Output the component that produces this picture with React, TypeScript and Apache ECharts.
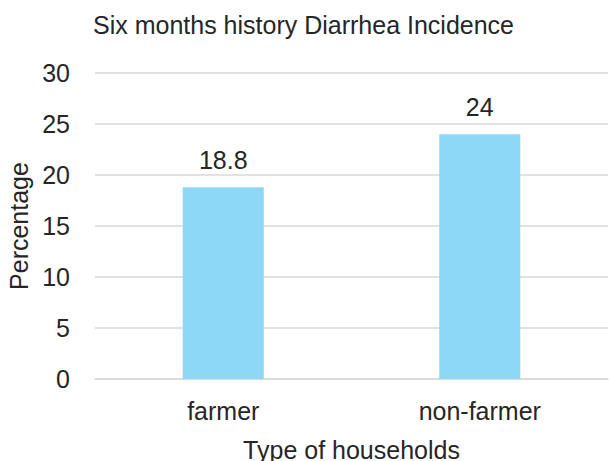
import React, { useEffect, useRef } from "react";
import * as echarts from "echarts";

const categories = ["farmer", "non-farmer"];
const values = [18.8, 24];
const titleText = "Six months history Diarrhea Incidence";
const xName = "Type of households";
const yName = "Percentage";

export default function App() {
  const ref = useRef<HTMLDivElement>(null);
  useEffect(() => {
    const chart = echarts.init(ref.current!, null, { renderer: "svg" });
    const font = "'Liberation Sans', Arial, sans-serif";
    const textColor = "#262626";
    const fs = 25;
    chart.setOption({
      animation: false,
      backgroundColor: "#ffffff",
      textStyle: { fontFamily: font },
      title: {
        text: titleText,
        left: 88,
        top: 7,
        textStyle: { fontSize: fs, fontWeight: "normal", color: textColor, fontFamily: font },
      },
      grid: { left: 95, right: 1, top: 73, bottom: 82, outerBoundsMode: "none", containLabel: false },
      xAxis: {
        type: "category",
        data: categories,
        name: xName,
        nameLocation: "middle",
        nameGap: 58,
        nameTextStyle: { fontSize: fs, color: textColor, fontFamily: font },
        axisLine: { lineStyle: { color: "#d9d9d9", width: 1.5 } },
        axisTick: { show: false },
        axisLabel: { fontSize: fs, color: textColor, margin: 19, fontFamily: font },
      },
      yAxis: {
        type: "value",
        min: 0,
        max: 30,
        interval: 5,
        name: yName,
        nameLocation: "middle",
        nameGap: 60,
        nameTextStyle: { fontSize: fs, color: textColor, fontFamily: font },
        axisLine: { show: false },
        axisTick: { show: false },
        axisLabel: { fontSize: fs, color: textColor, margin: 25, fontFamily: font },
        splitLine: { lineStyle: { color: "#d9d9d9", width: 1.5 } },
      },
      series: [
        {
          type: "bar",
          data: values,
          barWidth: "31.6%",
          itemStyle: { color: "#8dd7f7" },
          label: {
            show: true,
            position: "top",
            distance: 15,
            fontSize: fs,
            color: textColor,
            fontFamily: font,
          },
        },
      ],
    });
    return () => chart.dispose();
  }, []);
  return (
    <div
      ref={ref}
      style={{ position: "fixed", left: 0, top: 0, width: 609, height: 461 }}
    />
  );
}
